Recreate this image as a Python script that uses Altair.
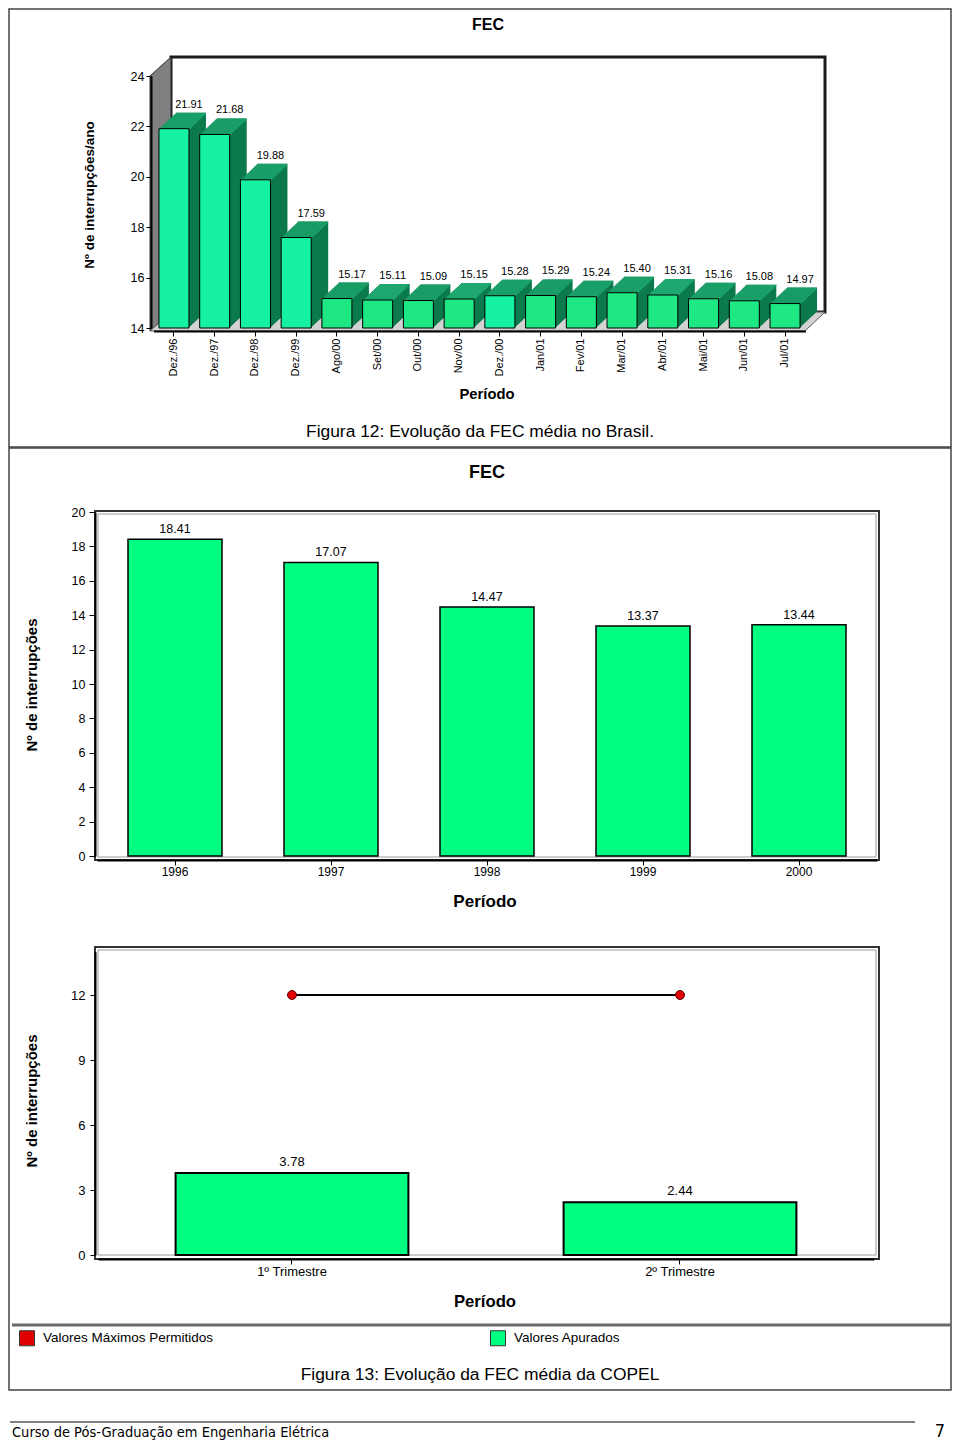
import altair as alt
import pandas as pd

# ---------------- data ----------------
periodos_brasil = ["Dez./96", "Dez./97", "Dez./98", "Dez./99", "Ago/00", "Set/00",
                   "Out/00", "Nov/00", "Dez./00", "Jan/01", "Fev/01", "Mar/01",
                   "Abr/01", "Mai/01", "Jun/01", "Jul/01"]
fec_brasil = [21.91, 21.68, 19.88, 17.59, 15.17, 15.11, 15.09, 15.15,
              15.28, 15.29, 15.24, 15.40, 15.31, 15.16, 15.08, 14.97]
ticks_brasil = [14, 16, 18, 20, 22, 24]

anos_copel = ["1996", "1997", "1998", "1999", "2000"]
fec_copel = [18.41, 17.07, 14.47, 13.37, 13.44]
ticks_anual = [0, 2, 4, 6, 8, 10, 12, 14, 16, 18, 20]

trimestres = ["1º Trimestre", "2º Trimestre"]
fec_apurado = [3.78, 2.44]
fec_maximo = [12, 12]
ticks_trim = [0, 3, 6, 9, 12]
series_legenda = ["Valores Máximos Permitidos", "Valores Apurados"]

# ---------------- page geometry helpers ----------------
W, H = 944, 1434


def P(v):
    """page pixel -> plot pixel (page has an 8px margin)"""
    return v - 8


SANS = "Liberation Sans, Arial, Helvetica, sans-serif"
COND = "DejaVu Sans Condensed, Liberation Sans, sans-serif"
ONE = pd.DataFrame({"t": [""]})


def text_at(s, x, y, size, weight="normal", font=SANS, align="center",
            baseline="middle", angle=None):
    props = dict(font=font, fontSize=size, fontWeight=weight, align=align,
                 baseline=baseline, color="black")
    if angle is not None:
        props["angle"] = angle
    return alt.Chart(pd.DataFrame({"t": [s]})).mark_text(**props).encode(
        x=alt.value(P(x)), y=alt.value(P(y)), text="t:N")


def rect_at(x1, y1, x2, y2, stroke="#333333", sw=1.5, fill=None):
    if fill is None:
        props = dict(fill="white", fillOpacity=0, stroke=stroke, strokeWidth=sw)
    else:
        props = dict(fill=fill, stroke=stroke, strokeWidth=sw)
    return alt.Chart(ONE).mark_rect(**props).encode(
        x=alt.value(P(x1)), x2=alt.value(P(x2)),
        y=alt.value(P(y1)), y2=alt.value(P(y2)))


def hline_at(x1, x2, y, color="black", sw=1.0):
    return alt.Chart(ONE).mark_rule(color=color, strokeWidth=sw).encode(
        x=alt.value(P(x1)), x2=alt.value(P(x2)), y=alt.value(P(y)))


def axis_y(x_page, values, size, tick=5, pad=3, dw=2):
    return alt.Axis(orient="left", offset=-P(x_page), values=values, title=None,
                    grid=False, tickSize=tick, tickColor="black", tickWidth=1,
                    labelPadding=pad, labelFont=SANS, labelFontSize=size,
                    labelColor="black", domainColor="black", domainWidth=dw,
                    zindex=1)


def axis_x(y_page, size, tick=5, pad=1, angle=0, dw=2):
    return alt.Axis(orient="bottom", offset=P(y_page) - H, title=None, grid=False,
                    tickSize=tick, tickColor="black", tickWidth=1,
                    labelPadding=pad, labelFont=SANS, labelFontSize=size,
                    labelColor="black", labelAngle=angle, labelOverlap=False,
                    domainColor="black", domainWidth=dw, zindex=1)


# ---------------- Figure 12 : 3-D bar chart (FEC Brasil) ----------------
SIDE, TOP = "#0c7a4c", "#1ea86f"
CYAN, GREEN = "#14f2a2", "#1ee884"

d1 = pd.DataFrame({"periodo": periodos_brasil, "fec": fec_brasil})
sc_x1 = alt.Scale(domain=periodos_brasil, range=[P(153.6), P(805.4)],
                  paddingInner=0.263, paddingOuter=0.1315)
sc_y1 = alt.Scale(domain=[14, 24], range=[P(328), P(76)], nice=False, zero=False)


def X1(axis=None):
    return alt.X("periodo:N", sort=periodos_brasil, scale=sc_x1, axis=axis)


def Y1(axis=None):
    return alt.Y("fec:Q", scale=sc_y1, axis=axis)


b1 = alt.Chart(d1)
N, DX, DY = 16, 17.0 / 16, 16.0 / 16
extrude = []
for k in range(N, 0, -1):
    extrude.append(b1.mark_bar(fill=SIDE, xOffset=k * DX, yOffset=-k * DY,
                               y2Offset=-k * DY).encode(
        x=X1(), y=Y1(), y2=alt.datum(14)))
    extrude.append(b1.mark_bar(fill=TOP, xOffset=k * DX, yOffset=-k * DY,
                               y2Offset=-(k - 1) * DY + 0.5).encode(
        x=X1(), y=Y1(), y2=alt.Y2("fec:Q")))

front1 = b1.mark_bar(stroke="black", strokeWidth=1).encode(
    x=X1(axis_x(331, 11, tick=5, pad=2, angle=270)),
    y=Y1(axis_y(151, ticks_brasil, 12.5, tick=5, pad=2)),
    y2=alt.datum(14),
    fill=alt.condition("indexof(datum.periodo, 'Dez') >= 0",
                       alt.value(CYAN), alt.value(GREEN)))
lab1 = b1.mark_text(font=SANS, fontSize=11, dx=15, dy=-24, color="black").encode(
    x=X1(), y=Y1(), text=alt.Text("fec:Q", format=".2f"))

# walls of the 3-D box (decoration)
back_wall = rect_at(171, 57, 825, 312, stroke="#1a1a1a", sw=3, fill="white")
wall_df = pd.DataFrame({"wx": [P(150), P(171)], "wy": [P(76), P(57)],
                        "wy2": [P(331), P(312)]})
left_wall = alt.Chart(wall_df).mark_area(
    fill="#808080", stroke="#2a2a2a", strokeWidth=1, orient="vertical").encode(
    x=alt.X("wx:Q", scale=None, axis=None),
    y=alt.Y("wy:Q", scale=None, axis=None), y2="wy2:Q")
floor_df = pd.DataFrame({"fy": [P(331), P(312)], "fx": [P(150), P(171)],
                         "fx2": [P(805), P(825)]})
floor = alt.Chart(floor_df).mark_area(
    fill="#d2d2d2", stroke="#555555", strokeWidth=1, orient="horizontal").encode(
    y=alt.Y("fy:Q", scale=None, axis=None),
    x=alt.X("fx:Q", scale=None, axis=None), x2="fx2:Q")

# ---------------- Figure 13a : FEC COPEL annual ----------------
d2 = pd.DataFrame({"ano": anos_copel, "fec": fec_copel})
sc_x2 = alt.Scale(domain=anos_copel, range=[P(97), P(877)],
                  paddingInner=0.3974, paddingOuter=0.1987)
sc_y2 = alt.Scale(domain=[0, 20], range=[P(856), P(512)], nice=False)
b2 = alt.Chart(d2)
bars2 = b2.mark_bar(fill="#00ff80", stroke="black", strokeWidth=1.5).encode(
    x=alt.X("ano:N", sort=anos_copel, scale=sc_x2,
            axis=axis_x(860, 12, tick=5, pad=1)),
    y=alt.Y("fec:Q", scale=sc_y2, axis=axis_y(95, ticks_anual, 12.5, tick=6, pad=4)))
lab2 = b2.mark_text(font=SANS, fontSize=12.5, dy=-10, color="black").encode(
    x=alt.X("ano:N", sort=anos_copel, scale=sc_x2, axis=None),
    y=alt.Y("fec:Q", scale=sc_y2, axis=None),
    text=alt.Text("fec:Q", format=".2f"))
frame2o = rect_at(95, 511, 879, 860, stroke="#333333", sw=2)
frame2i = rect_at(98, 514, 876, 857, stroke="#9a9a9a", sw=1)

# ---------------- Figure 13b : FEC COPEL quarterly ----------------
d3 = pd.DataFrame({"trimestre": trimestres, "apurado": fec_apurado,
                   "maximo": fec_maximo})
sc_x3 = alt.Scale(domain=trimestres, range=[P(98), P(874)],
                  paddingInner=0.4, paddingOuter=0.2)
sc_y3 = alt.Scale(domain=[0, 14], range=[P(1255), P(1255 - 14 * 260 / 12)], nice=False)
sc_c3 = alt.Scale(domain=series_legenda, range=["#e00000", "#00ff80"])


def X3(axis=None):
    return alt.X("trimestre:N", sort=trimestres, scale=sc_x3, axis=axis)


b3 = alt.Chart(d3)
legend3 = alt.Legend(orient="none", legendX=P(19), legendY=P(1330),
                     direction="horizontal", columns=2, gridAlign="all",
                     title=None, symbolType="square", symbolSize=225,
                     symbolStrokeColor="#333333", symbolStrokeWidth=1,
                     labelFont=SANS, labelFontSize=13.5, labelColor="black",
                     labelOffset=8, columnPadding=274, labelLimit=400, padding=0)
bars3 = b3.transform_calculate(serie="'Valores Apurados'").mark_bar(
    stroke="black", strokeWidth=2, opacity=1).encode(
    x=X3(axis_x(1259, 13, tick=5, pad=1)),
    y=alt.Y("apurado:Q", scale=sc_y3, axis=axis_y(95, ticks_trim, 13, tick=5, pad=5)),
    color=alt.Color("serie:N", scale=sc_c3, legend=legend3))
line3 = b3.mark_line(color="black", strokeWidth=2).encode(
    x=X3(), y=alt.Y("maximo:Q", scale=sc_y3, axis=None))
pts3 = b3.transform_calculate(serie="'Valores Máximos Permitidos'").mark_point(
    filled=True, size=80, stroke="#5a0000", strokeWidth=1, opacity=1).encode(
    x=X3(), y=alt.Y("maximo:Q", scale=sc_y3, axis=None),
    color=alt.Color("serie:N", scale=sc_c3, legend=None))
lab3 = b3.mark_text(font=SANS, fontSize=13, dy=-11, color="black").encode(
    x=X3(), y=alt.Y("apurado:Q", scale=sc_y3, axis=None),
    text=alt.Text("apurado:Q", format=".2f"))
frame3o = rect_at(95, 947, 879, 1259, stroke="#333333", sw=2)
frame3i = rect_at(98, 950, 876, 1255, stroke="#9a9a9a", sw=1)

# ---------------- texts / boxes ----------------
box1 = rect_at(9, 9, 951, 447, stroke="#444444", sw=1.5)
box2 = rect_at(9, 448, 951, 1390, stroke="#444444", sw=1.5)

texts = [
    text_at("FEC", 488, 25, 16, "bold"),
    text_at("Nº de interrupções/ano", 90, 195, 13.5, "bold", angle=270),
    text_at("Período", 487, 395, 14.8, "bold"),
    text_at("Figura 12: Evolução da FEC média no Brasil.", 480, 432, 17.4),
    text_at("FEC", 487, 473, 18, "bold"),
    text_at("Nº de interrupções", 32, 685, 15, "bold", angle=270),
    text_at("Período", 485, 902, 17, "bold"),
    text_at("Nº de interrupções", 32, 1101, 15, "bold", angle=270),
    text_at("Período", 485, 1302, 16.7, "bold"),
    text_at("Figura 13: Evolução da FEC média da COPEL", 480, 1375, 17.4),
]
legend_rule = hline_at(12, 951, 1325, "#6a6a6a", 3)
footer_rule = hline_at(10, 915, 1422, "black", 1)
footer_text = text_at("Curso de Pós-Graduação em Engenharia Elétrica", 12, 1433,
                      14.5, font=COND, align="left")
page_no = text_at("7", 940, 1432, 18, font=COND)

chart = alt.layer(
    box1, box2,
    back_wall, left_wall, floor,
    *extrude, front1, lab1,
    frame2o, frame2i, bars2, lab2,
    frame3o, frame3i, bars3, line3, pts3, lab3,
    *texts, legend_rule, footer_rule, footer_text, page_no,
).properties(
    width=W, height=H, padding=0, background="white",
    autosize=alt.AutoSizeParams(type="none"),
).resolve_scale(
    x="independent", y="independent", color="independent"
).resolve_axis(
    x="independent", y="independent"
).configure_view(strokeWidth=0)

chart.save("out.html", embed_options={"renderer": "svg", "actions": False})
